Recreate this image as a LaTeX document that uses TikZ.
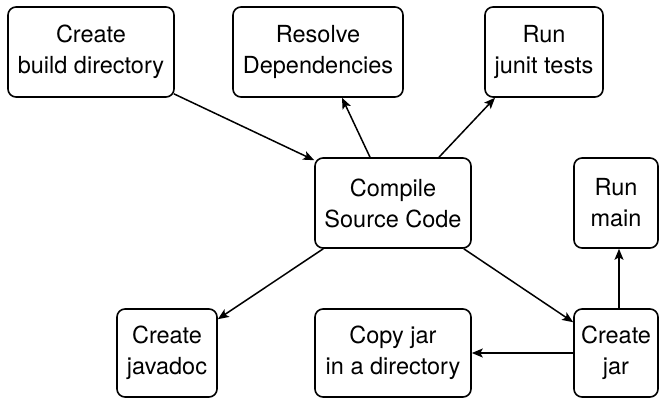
\documentclass[tikz,border=0pt]{standalone}
\usepackage{fontspec}
\setmainfont{TeX Gyre Heros}
\usetikzlibrary{arrows.meta}
\begin{document}
\begin{tikzpicture}[x=1pt, y=-1pt,
  task/.style={draw, line width=1.6pt, rounded corners=8pt, align=center,
    inner sep=0pt, font=\fontsize{23.5}{31}\selectfont},
  flow/.style={line width=1.5pt, -{Stealth[length=11pt, width=9pt, inset=2.5pt]}}]
  \useasboundingbox (0,0) rectangle (663,399);
  % top row
  \node[task, minimum width=166pt, minimum height=90pt] (bd) at (91,52) {Create\\build directory};
  \node[task, minimum width=170pt, minimum height=90pt] (rd) at (318,52) {Resolve\\Dependencies};
  \node[task, minimum width=118pt, minimum height=90pt] (rj) at (544,52) {Run\\junit tests};
  % middle row
  \node[task, minimum width=156pt, minimum height=90pt] (cmp) at (393,203) {Compile\\Source Code};
  \node[task, minimum width=84pt, minimum height=90pt] (rm) at (616,203) {Run\\main};
  % bottom row
  \node[task, minimum width=100pt, minimum height=88pt] (jd) at (167,353) {Create\\javadoc};
  \node[task, minimum width=156pt, minimum height=88pt] (cj) at (393,353) {Copy jar\\in a directory};
  \node[task, minimum width=84pt, minimum height=88pt] (crj) at (616,353) {Create\\jar};
  % connectors
  \draw[flow] ([xshift=-1pt, yshift=4pt]bd.south east) -- ([yshift=-3pt]cmp.north west);
  \draw[flow] ([xshift=-23pt]cmp.north) -- ([xshift=24pt]rd.south);
  \draw[flow] ([xshift=46pt]cmp.north) -- ([xshift=-49pt]rj.south);
  \draw[flow] ([xshift=9pt]cmp.south west) -- ([yshift=-11pt]jd.north east);
  \draw[flow] ([xshift=-8pt]cmp.south east) -- ([yshift=-14pt]crj.north west);
  \draw[flow] ([xshift=3pt]crj.north) -- ([xshift=3pt]rm.south);
  \draw[flow] (crj.west) -- (cj.east);
\end{tikzpicture}
\end{document}
